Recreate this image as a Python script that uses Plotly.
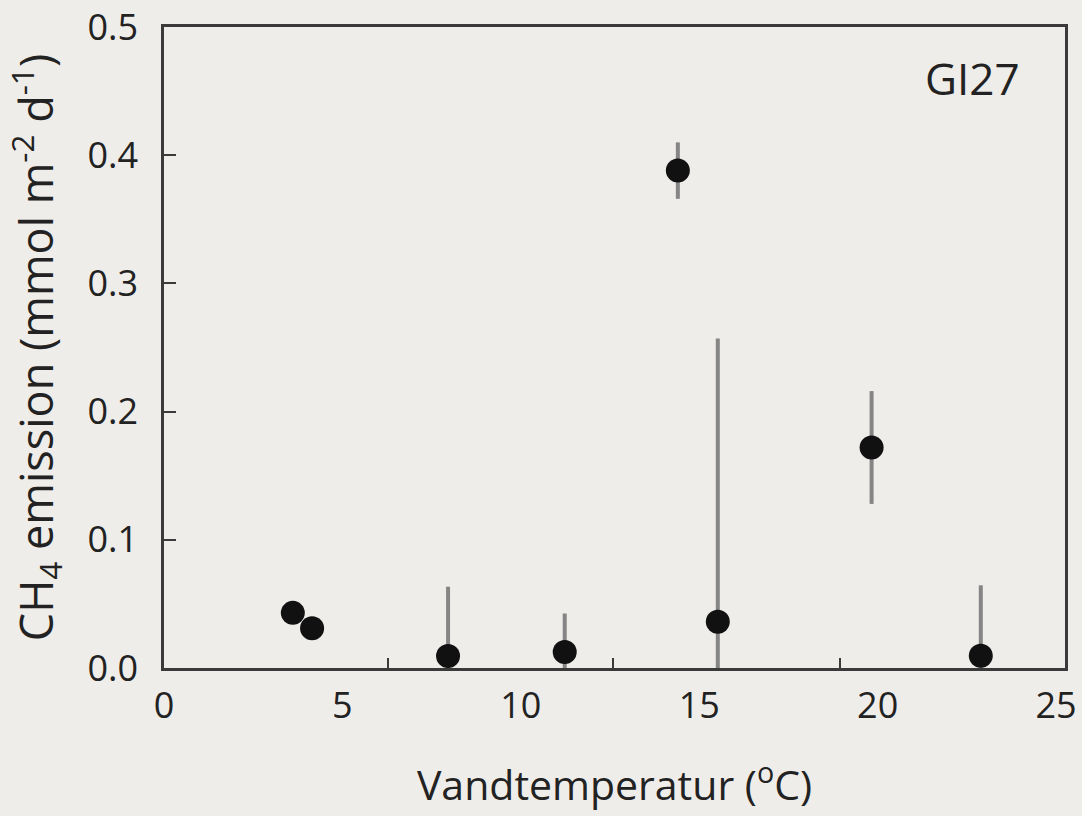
import plotly.graph_objects as go

# Data
temperature = [3.61, 4.15, 7.96, 11.23, 14.40, 15.52, 19.83, 22.89]
emission = [0.043, 0.031, 0.0094, 0.0125, 0.388, 0.036, 0.172, 0.0095]
err_plus = [0.0, 0.0, 0.054, 0.030, 0.022, 0.221, 0.044, 0.055]
err_minus = [0.0, 0.0, 0.0094, 0.0125, 0.022, 0.036, 0.044, 0.0095]

x_tick_labels = [0, 5, 10, 15, 20, 25]
x_tick_marks = [6.27, 12.58, 18.94]
y_ticks = [0.0, 0.1, 0.2, 0.3, 0.4, 0.5]

BG = "#efede9"
AXC = "#3a3a3a"
FONT = "Open Sans"

fig = go.Figure()
fig.add_trace(go.Scatter(
    x=temperature, y=emission, mode="markers",
    marker=dict(size=24, color="#111111"),
    error_y=dict(type="data", array=err_plus, arrayminus=err_minus,
                 symmetric=False, width=0, thickness=4, color="#858585"),
    showlegend=False, hoverinfo="skip",
))
fig.add_trace(go.Scatter(x=[None], y=[None], xaxis="x2", showlegend=False,
                         hoverinfo="skip"))

fig.update_layout(
    width=1082, height=816,
    margin=dict(l=164, r=17, t=27, b=148),
    paper_bgcolor=BG, plot_bgcolor=BG,
    font=dict(family=FONT, color="#222222"),
    xaxis=dict(
        range=[0, 25.25], tickvals=x_tick_labels,
        ticktext=[str(v) for v in x_tick_labels],
        ticks="", showgrid=False, zeroline=False, automargin=False,
        showline=True, linecolor=AXC, linewidth=2.5, mirror=True,
        tickfont=dict(size=36, family=FONT, color="#222222"),
        ticklabelstandoff=4,
        title=dict(text="Vandtemperatur (<sup>o</sup>C)",
                   font=dict(size=41, family=FONT, color="#222222"),
                   standoff=44),
    ),
    xaxis2=dict(
        overlaying="x", matches="x", anchor="y", side="bottom",
        range=[0, 25.25], tickvals=x_tick_marks, showticklabels=False,
        ticks="inside", ticklen=10, tickwidth=2, tickcolor=AXC,
        showgrid=False, zeroline=False, showline=False, automargin=False,
    ),
    yaxis=dict(
        range=[0, 0.5], tickvals=y_ticks,
        ticktext=[f"{v:.1f}" for v in y_ticks],
        ticks="inside", ticklen=12, tickwidth=2, tickcolor=AXC,
        showgrid=False, zeroline=False, automargin=False,
        showline=True, linecolor=AXC, linewidth=2.5, mirror=True,
        tickfont=dict(size=36, family=FONT, color="#222222"),
        ticklabelstandoff=16,
        title=dict(text="CH<sub>4</sub> emission (mmol m<sup>-2</sup> d<sup>-1</sup>)",
                   font=dict(size=45, family=FONT, color="#222222"),
                   standoff=24),
    ),
    annotations=[dict(
        text="GI27", x=0.897, y=0.92, xref="paper", yref="paper",
        xanchor="center", yanchor="middle", showarrow=False,
        font=dict(size=44, family=FONT, color="#222222"),
    )],
)

fig.write_html("out.html")
